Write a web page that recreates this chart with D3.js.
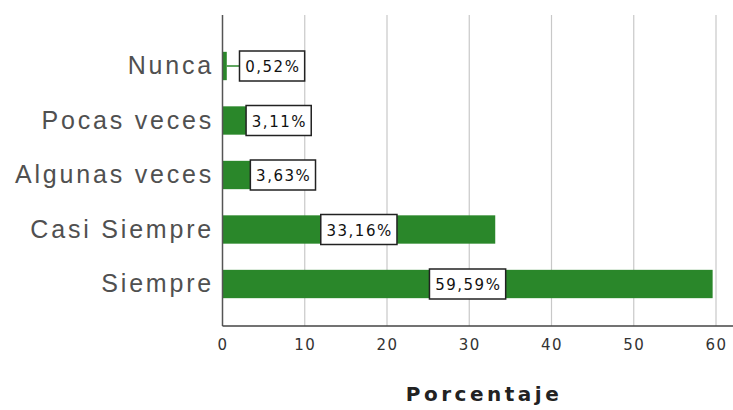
<!DOCTYPE html>
<html><head><meta charset="utf-8">
<script src="https://cdn.jsdelivr.net/npm/d3@7/dist/d3.min.js"></script>
<style>body{margin:0;background:#fff}svg{display:block}</style>
</head><body>
<svg id="c" width="733" height="410"></svg>
<script>
const categories = ["Nunca", "Pocas veces", "Algunas veces", "Casi Siempre", "Siempre"];
const values = [0.52, 3.11, 3.63, 33.16, 59.59];
const valueLabels = ["0,52%", "3,11%", "3,63%", "33,16%", "59,59%"];
const xTicks = [0, 10, 20, 30, 40, 50, 60];
const xTitle = "Porcentaje";

const svg = d3.select("#c");
const x = d3.scaleLinear().domain([0, 60]).range([222.5, 716]);
const y = d3.scaleBand().domain(categories).range([38.75, 311.25]).paddingInner(0.48).paddingOuter(0.24);
const plotTop = 15, plotBottom = 326;

// gridlines
svg.append("g").selectAll("line").data(xTicks.filter(d => d > 0)).join("line")
  .attr("x1", d => x(d)).attr("x2", d => x(d)).attr("y1", plotTop).attr("y2", plotBottom)
  .attr("stroke", "#c8c8c8").attr("stroke-width", 1.2);

// bars
svg.append("g").selectAll("rect").data(values).join("rect")
  .attr("x", x(0)).attr("y", (d, i) => y(categories[i]))
  .attr("width", d => x(d) - x(0)).attr("height", y.bandwidth())
  .attr("fill", "#2a872a");

// axes lines
svg.append("line").attr("x1", x(0)).attr("x2", x(0)).attr("y1", plotTop).attr("y2", plotBottom)
  .attr("stroke", "#555").attr("stroke-width", 1.5);
svg.append("line").attr("x1", x(0)).attr("x2", 733).attr("y1", plotBottom).attr("y2", plotBottom)
  .attr("stroke", "#444").attr("stroke-width", 1.5);

// x tick labels via axis
const xAxis = d3.axisBottom(x).tickValues(xTicks).tickSize(0).tickPadding(0).tickFormat(d3.format("d"));
const gx = svg.append("g").attr("transform", `translate(0,${plotBottom})`).call(xAxis);
gx.select(".domain").remove();
gx.selectAll("text").attr("y", 24).attr("dy", 0)
  .style("font-family", "DejaVu Sans").style("font-size", "15px").style("letter-spacing", "1.5px")
  .attr("fill", "#333");

// category labels
svg.append("g").selectAll("text").data(categories).join("text")
  .attr("x", 214).attr("y", d => y(d) + y.bandwidth() / 2 + 8)
  .attr("text-anchor", "end")
  .style("font-family", "Liberation Sans, Arial").style("font-size", "25px").style("letter-spacing", "2.8px")
  .attr("fill", "#505050").text(d => d);

// value labels
const lg = svg.append("g");
values.forEach((v, i) => {
  const cy = y(categories[i]) + y.bandwidth() / 2;
  const t = lg.append("text").text(valueLabels[i])
    .style("font-family", "DejaVu Sans").style("font-size", "15px").style("letter-spacing", "1.5px")
    .attr("fill", "#111").attr("text-anchor", "middle").attr("dominant-baseline", "central");
  const tw = t.node().getComputedTextLength();
  const bw = tw + 10, bh = 30;
  const barEnd = x(v), barW = barEnd - x(0);
  let left;
  if (barW > bw + 20) left = x(0) + barW / 2 - bw / 2;
  else left = Math.max(x(0) + 17, barEnd - 2);
  if (left > barEnd + 2) {
    lg.insert("line", "text").attr("x1", barEnd).attr("x2", left).attr("y1", cy).attr("y2", cy)
      .attr("stroke", "#2a872a").attr("stroke-width", 1.5);
  }
  lg.insert("rect", "text").attr("x", left).attr("y", cy - bh / 2).attr("width", bw).attr("height", bh)
    .attr("fill", "#fff").attr("stroke", "#222").attr("stroke-width", 1.5);
  t.attr("x", left + bw / 2 + 0.75).attr("y", cy + 1);
});

// title
svg.append("text").attr("x", 484).attr("y", 401).attr("text-anchor", "middle")
  .style("font-family", "DejaVu Sans").style("font-weight", "bold").style("font-size", "20px")
  .style("letter-spacing", "3.5px").attr("fill", "#222").text(xTitle);
</script>
</body></html>
